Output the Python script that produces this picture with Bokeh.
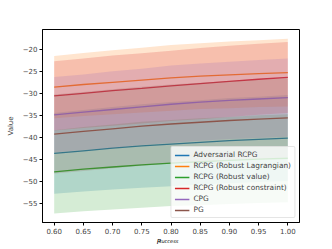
from bokeh.plotting import figure
from bokeh.models import FixedTicker, CustomJSTickFormatter, Range1d, Legend, LinearAxis
from bokeh.embed import file_html
from bokeh.resources import INLINE

x = [0.60, 0.65, 0.70, 0.75, 0.80, 0.85, 0.90, 0.95, 1.00]

names = ["Adversarial RCPG", "RCPG (Robust Lagrangian)", "RCPG (Robust value)",
         "RCPG (Robust constraint)", "CPG", "PG"]
colors = ["#1f77b4", "#ff7f0e", "#2ca02c", "#d62728", "#9467bd", "#8c564b"]

adv_mean = [-43.7, -43.1, -42.5, -42.0, -41.6, -41.2, -40.8, -40.5, -40.2]
adv_std = [9.2, 9.3, 9.4, 9.5, 9.6, 9.6, 9.7, 9.7, 9.8]
lag_mean = [-28.6, -28.0, -27.5, -27.0, -26.5, -26.1, -25.8, -25.5, -25.3]
lag_std = [7.1, 7.2, 7.3, 7.4, 7.5, 7.5, 7.6, 7.6, 7.7]
val_mean = [-47.9, -47.3, -46.8, -46.3, -45.9, -45.6, -45.3, -45.0, -44.8]
val_std = [9.5, 9.6, 9.7, 9.8, 9.8, 9.9, 9.9, 10.0, 10.0]
con_mean = [-30.6, -30.0, -29.4, -28.9, -28.3, -27.8, -27.3, -26.8, -26.4]
con_std = [7.9, 7.9, 8.0, 8.0, 8.0, 8.1, 8.1, 8.1, 8.1]
cpg_mean = [-34.9, -34.3, -33.7, -33.1, -32.5, -32.0, -31.6, -31.3, -31.0]
cpg_std = [8.6, 8.6, 8.7, 8.7, 8.8, 8.8, 8.8, 8.9, 8.9]
pg_mean = [-39.3, -38.7, -38.1, -37.5, -37.0, -36.6, -36.2, -35.9, -35.6]
pg_std = [9.0, 9.0, 9.0, 9.0, 9.0, 9.0, 9.0, 9.0, 9.0]

means = [adv_mean, lag_mean, val_mean, con_mean, cpg_mean, pg_mean]
stds = [adv_std, lag_std, val_std, con_std, cpg_std, pg_std]

xticks = [0.60, 0.65, 0.70, 0.75, 0.80, 0.85, 0.90, 0.95, 1.00]
yticks = [-55, -50, -45, -40, -35, -30, -25, -20]

FONT = "DejaVu Sans"
NB = "\u00a0"

p = figure(width=332, height=249, output_backend="svg", toolbar_location=None,
           x_range=Range1d(0.58, 1.02), y_range=Range1d(-59.44, -15.47),
           min_border_left=42, min_border_right=33, min_border_top=29, min_border_bottom=27)
p.grid.visible = False
p.outline_line_color = "black"
p.outline_line_width = 1

items = []
for name, col, m, s in zip(names, colors, means, stds):
    r = p.line(x, m, line_color=col, line_width=1.3)
    lo = [a - b for a, b in zip(m, s)]
    hi = [a + b for a, b in zip(m, s)]
    p.varea(x=x, y1=lo, y2=hi, fill_color=col, fill_alpha=0.2)
    items.append((name, [r]))

legend = Legend(items=items, location="bottom_right")
legend.label_text_font = FONT
legend.label_text_font_size = "7.4px"
legend.glyph_width = 15
legend.glyph_height = 8
legend.label_height = 8
legend.spacing = 2
legend.padding = 3
legend.margin = 4
legend.label_standoff = 4
legend.background_fill_alpha = 0.8
legend.border_line_color = "#cccccc"
legend.border_line_width = 1
legend.border_radius = 2
p.add_layout(legend)

for ax in (p.xaxis, p.yaxis):
    ax.axis_line_color = "black"
    ax.major_tick_line_color = "black"
    ax.minor_tick_line_color = None
    ax.major_tick_out = 3
    ax.major_tick_in = 0
    ax.major_label_text_font = FONT
    ax.major_label_text_font_size = "7px"
    ax.major_label_standoff = 2

p.xaxis.ticker = FixedTicker(ticks=xticks)
p.yaxis.ticker = FixedTicker(ticks=yticks)
p.xaxis.formatter = CustomJSTickFormatter(code="return tick.toFixed(2);")
p.yaxis.formatter = CustomJSTickFormatter(
    code="return (tick < 0 ? '\u2212' : '') + Math.abs(tick).toFixed(0);")

p.yaxis.axis_label = "Value"
p.yaxis.axis_label_text_font = FONT
p.yaxis.axis_label_text_font_size = "7px"
p.yaxis.axis_label_text_font_style = "normal"
p.yaxis.axis_label_standoff = 5

# x label: italic P with subscript "success"
p.xaxis.axis_label = "P" + NB * 11
p.xaxis.axis_label_text_font = FONT
p.xaxis.axis_label_text_font_size = "7px"
p.xaxis.axis_label_text_font_style = "italic"
p.xaxis.axis_label_text_color = "black"
p.xaxis.axis_label_standoff = 1

sub = LinearAxis(ticker=FixedTicker(ticks=[]), axis_line_color=None,
                 major_tick_line_color=None, minor_tick_line_color=None,
                 major_label_text_font_size="1px",
                 axis_label="success" + NB * 3, axis_label_text_font=FONT,
                 axis_label_text_font_size="5px", axis_label_text_font_style="italic",
                 axis_label_text_color="black", axis_label_standoff=-11)
p.add_layout(sub, "below")

open("out.html", "w").write(file_html(p, INLINE))
